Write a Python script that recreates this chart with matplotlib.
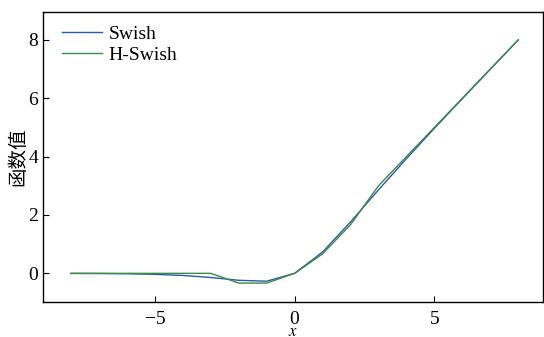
import matplotlib
matplotlib.use('Agg')
import matplotlib.pyplot as plt

# values at integer x
x_vals = [-8, -7, -6, -5, -4, -3, -2, -1, 0, 1, 2, 3, 4, 5, 6, 7, 8]
swish_vals = [-0.003, -0.006, -0.015, -0.034, -0.072, -0.142, -0.238, -0.269,
              0.0, 0.731, 1.76, 2.86, 3.93, 4.97, 5.985, 6.994, 7.997]
hswish_vals = [0.0, 0.0, 0.0, 0.0, 0.0, 0.0, -0.333, -0.333,
               0.0, 0.667, 1.667, 3.0, 4.0, 5.0, 6.0, 7.0, 8.0]
series_labels = ['Swish', 'H-Swish']
x_ticks = [-5, 0, 5]
y_ticks = [0, 2, 4, 6, 8]

plt.rcParams['font.family'] = ['Liberation Serif', 'Noto Sans CJK SC']
plt.rcParams['mathtext.fontset'] = 'stix'

fig = plt.figure(figsize=(5.44, 3.37), dpi=100)
ax = fig.add_axes([0.079, 0.104, 0.919, 0.861])

ax.plot(x_vals, swish_vals, color='#2b5ba8', lw=1.0, label=series_labels[0])
ax.plot(x_vals, hswish_vals, color='#3b8a46', lw=1.0, label=series_labels[1])

ax.set_xlim(-9.0, 8.88)
ax.set_ylim(-0.98, 8.96)
ax.set_xticks(x_ticks)
ax.set_yticks(y_ticks)
ax.tick_params(axis='y', direction='in', length=4, width=0.8, labelsize=14, pad=3.5)
ax.tick_params(axis='x', direction='in', length=4, width=0.8, labelsize=14, pad=6.5)
for s in ax.spines.values():
    s.set_linewidth(1.0)

ax.set_xlabel('$x$', fontsize=12)
ax.xaxis.set_label_coords(0.5, -0.13)
ax.xaxis.label.set_va('bottom')
ax.set_ylabel('函数值', fontsize=14, family=['Noto Sans CJK SC'])
ax.yaxis.set_label_coords(-0.03, 0.5)

ax.legend(loc='upper left', frameon=False, fontsize=14, handlelength=2.1,
          handletextpad=0.3, labelspacing=0.15, borderaxespad=0.3,
          bbox_to_anchor=(0.01, 1.0))

fig.savefig('out.png', dpi=100)
